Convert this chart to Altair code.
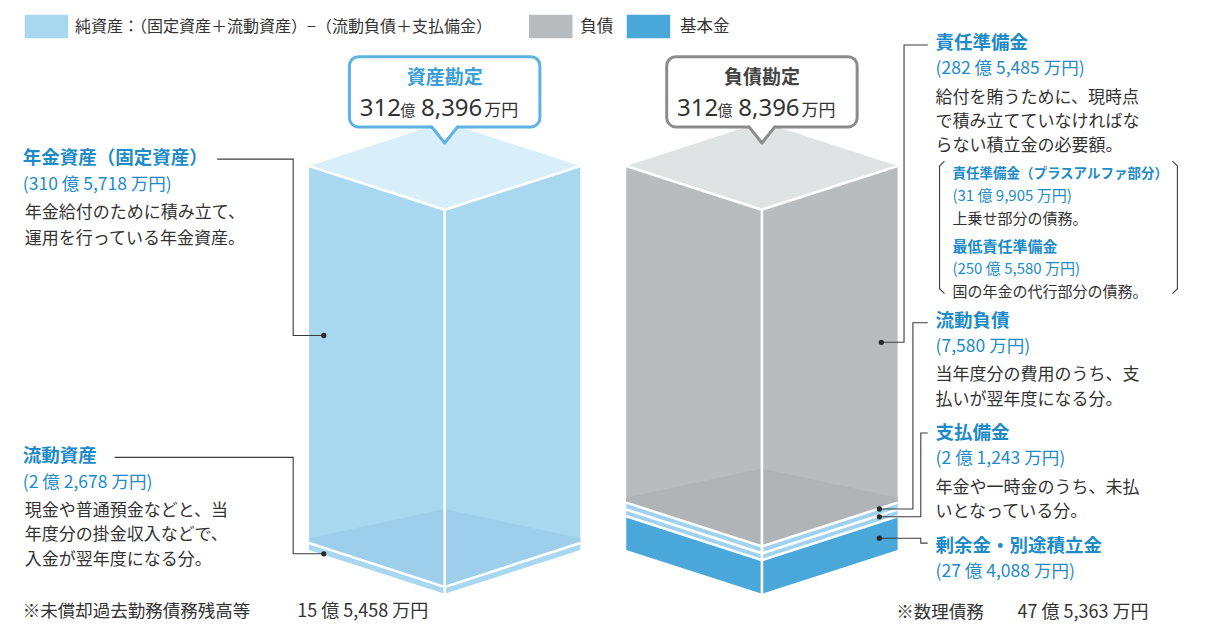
import altair as alt
import pandas as pd

# ---------------- data (amounts in 万円) ----------------
asset_labels = ["年金資産（固定資産）", "流動資産"]
asset_values = [3105718, 22678]
liability_labels = ["責任準備金", "流動負債", "支払備金", "剰余金・別途積立金"]
liability_values = [2825485, 7580, 21243, 274088]
reserve_labels = ["責任準備金（プラスアルファ部分）", "最低責任準備金"]
reserve_values = [319905, 2505580]
account_titles = ["資産勘定", "負債勘定"]
note_labels = ["※未償却過去勤務債務残高等", "※数理債務"]
note_values = [155458, 475363]
legend_labels = ["純資産：（固定資産＋流動資産）−（流動負債＋支払備金）", "負債", "基本金"]
asset_desc = [["年金給付のために積み立て、", "運用を行っている年金資産。"],
              ["現金や普通預金などと、当", "年度分の掛金収入などで、", "入金が翌年度になる分。"]]
liability_desc = [["給付を賄うために、現時点", "で積み立てていなければな", "らない積立金の必要額。"],
                  ["当年度分の費用のうち、支", "払いが翌年度になる分。"],
                  ["年金や一時金のうち、未払", "いとなっている分。"],
                  []]
reserve_desc = ["上乗せ部分の債務。", "国の年金の代行部分の債務。"]

# ---------------- styles / layout ----------------
LIGHT, GRAY, BASE, STRIPE = "#a8d7f0", "#b8bcbe", "#4aa7d9", "#9fd2ef"
TOPS = ["#d8eef9", "#e0e3e4"]
SHADES = ["#9dcfeb", "#b0b4b6"]
asset_fill = [LIGHT, LIGHT]
liability_fill = [GRAY, STRIPE, STRIPE, BASE]
legend_fill = [LIGHT, GRAY, BASE]
BLUE_T, DARK = "#1d8bc8", "#333333"
CALLOUT = ["#5cb2e1", "#8c8c8c"]
CALLOUT_T = ["#3a9fd6", "#444444"]
FONT = "Noto Sans CJK JP"
NUM_FONT = "Noto Sans, Noto Sans CJK JP, sans-serif"

BOX_TOP, BOX_BOT, DEPTH, HALF = 162, 556, 45, 137.5
CX = [442.5, 764]
MIN_PX = 7


def fmt(v, paren=True):
    oku, man = divmod(v, 10000)
    s = f"{oku} 億 {man:,} 万円" if oku else f"{man:,} 万円"
    return f"({s})" if paren else s


faces, shades, edges = [], [], []


def add_area(rows, pid, pts, fill):
    for x, y, y2 in pts:
        rows.append(dict(id=pid, x=x, y=y, y2=y2, fill=fill))


def add_line(rows, pid, pts, color="#ffffff"):
    for k, (x, y) in enumerate(pts):
        rows.append(dict(id=pid, k=k, x=x, y=y, color=color))


boxes = [(asset_values, asset_fill, [1, 0]),
         (liability_values, liability_fill, [3, 2, 1, 0])]
for b, (vals, fills, order) in enumerate(boxes):
    cx = CX[b]
    H = BOX_BOT - BOX_TOP
    total = sum(vals)
    hs = {i: max(vals[i] / total * H, MIN_PX) for i in order[:-1]}
    hs[order[-1]] = H - sum(hs.values())
    yb = BOX_BOT
    for n, i in enumerate(order):
        yt = yb - hs[i]
        add_area(faces, f"b{b}l{i}", [(cx - HALF, yb, yt), (cx, yb + DEPTH, yt + DEPTH), (cx + HALF, yb, yt)], fills[i])
        if i == order[-1]:
            add_area(shades, f"s{b}", [(cx - HALF, yb, yb - 5), (cx, yb + DEPTH, yb + DEPTH - 80), (cx + HALF, yb, yb - 5)], SHADES[b])
        else:
            add_line(edges, f"e{b}{n}", [(cx - HALF, yt), (cx, yt + DEPTH), (cx + HALF, yt)])
        yb = yt
    add_area(faces, f"b{b}top", [(cx - HALF, BOX_TOP, BOX_TOP), (cx, BOX_TOP + DEPTH, BOX_TOP - DEPTH), (cx + HALF, BOX_TOP, BOX_TOP)], TOPS[b])
    add_line(edges, f"t{b}", [(cx - HALF, BOX_TOP), (cx, BOX_TOP + DEPTH), (cx + HALF, BOX_TOP)])
    add_line(edges, f"v{b}", [(cx, BOX_TOP + DEPTH), (cx, BOX_BOT + DEPTH)])

# callouts
callout_rects, tail_cover, tails = [], [], []
for b in range(2):
    cx = CX[b]
    callout_rects.append(dict(x=cx - 96.5, x2=cx + 96.5, y=50, y2=122, stroke=CALLOUT[b]))
    add_area(tail_cover, f"c{b}", [(cx - 13, 117, 123), (cx, 117, 139), (cx + 13, 117, 123)], "#ffffff")
    add_line(tails, f"c{b}", [(cx - 13, 122), (cx, 138.5), (cx + 13, 122)], CALLOUT[b])

# leader lines
LEAD = "#3c3c3c"
leaders = []
add_line(leaders, "a0", [(212, 155), (289, 155), (289, 336), (320, 336)], LEAD)
add_line(leaders, "a1", [(108, 461), (289, 461), (289, 560), (320, 560)], LEAD)
add_line(leaders, "l0", [(932, 38), (908, 38), (908, 343), (885, 343)], LEAD)
add_line(leaders, "l1", [(932, 323), (917, 323), (917, 514), (883, 514)], LEAD)
add_line(leaders, "l2", [(932, 436), (925, 436), (925, 522), (883, 522)], LEAD)
add_line(leaders, "l3", [(883, 544), (925, 544), (925, 549), (932, 549)], LEAD)
add_line(leaders, "br0", [(949, 157), (944, 162), (944, 288), (949, 293)], LEAD)
add_line(leaders, "br1", [(1180, 157), (1185, 162), (1185, 288), (1180, 293)], LEAD)
dots = pd.DataFrame(dict(x=[320, 320, 885, 883, 883, 883], y=[336, 560, 343, 514, 522, 544]))

# legend
legend_rects = pd.DataFrame(dict(x=[17, 528, 627], x2=[61, 572, 671], y=[7, 7, 7], y2=[31, 31, 31], fill=legend_fill))

# texts
bold, normal = [], []


def t(rows, x, y, s, size, color):
    rows.append(dict(x=x, y=y, text=s, size=size, color=color))


t(bold, 15, 154, asset_labels[0], 18.5, BLUE_T)
t(normal, 15, 182, fmt(asset_values[0]), 17.5, BLUE_T)
for k, s in enumerate(asset_desc[0]):
    t(normal, 17, 210 + 27 * k, s, 17, DARK)
t(bold, 15, 460, asset_labels[1], 18.5, BLUE_T)
t(normal, 15, 487, fmt(asset_values[1]), 17.5, BLUE_T)
for k, s in enumerate(asset_desc[1]):
    t(normal, 17, 516 + 25 * k, s, 17, DARK)
t(normal, 15, 620, note_labels[0], 17.5, DARK)
t(normal, 293, 620, fmt(note_values[0], False), 18, DARK)

head_y = [36, 321, 436, 552]
for i, lab in enumerate(liability_labels):
    y0 = head_y[i]
    t(bold, 940, y0, lab, 18.5, BLUE_T)
    t(normal, 940, y0 + 27, fmt(liability_values[i]), 17.5, BLUE_T)
    for k, s in enumerate(liability_desc[i]):
        t(normal, 940, y0 + 56 + 25 * k, s, 17, DARK)
sub_y = [170, 245]
for i, lab in enumerate(reserve_labels):
    y0 = sub_y[i]
    t(bold, 957, y0, lab, 13.5 if i == 0 else 15, BLUE_T)
    t(normal, 957, y0 + 23, fmt(reserve_values[i]), 15, BLUE_T)
    t(normal, 957, y0 + 46, reserve_desc[i], 15, DARK)
t(normal, 900, 621, note_labels[1], 17.5, DARK)
t(normal, 1023, 621, fmt(note_values[1], False), 18, DARK)

t(normal, 68, 19, legend_labels[0], 16, DARK)
t(normal, 580, 19, legend_labels[1], 16.5, DARK)
t(normal, 681, 19, legend_labels[2], 16.5, DARK)

centered = []
amount_pieces = []
for b in range(2):
    cx = CX[b]
    t(centered, cx, 72, account_titles[b], 19, CALLOUT_T[b])
    oku, man = divmod(sum(boxes[b][0]), 10000)
    amount_pieces += [dict(x=cx - 86, y=111, text=str(oku), size=24, color=DARK),
                      dict(x=cx - 45, y=111, text="億", size=15, color=DARK),
                      dict(x=cx - 24, y=111, text=f"{man:,}", size=24, color=DARK),
                      dict(x=cx + 40, y=111, text="万円", size=17, color=DARK)]

# ---------------- chart ----------------
xs = alt.Scale(domain=[0, 1214], nice=False, zero=False)
ys = alt.Scale(domain=[0, 632], nice=False, zero=False, reverse=True)
X = alt.X("x:Q", scale=xs, axis=None)
Y = alt.Y("y:Q", scale=ys, axis=None)


def area_layer(rows):
    return alt.Chart(pd.DataFrame(rows)).mark_area(orient="vertical", opacity=1).encode(
        x=X, y=Y, y2="y2:Q", detail="id:N", color=alt.Color("fill:N", scale=None))


def line_layer(rows, width, **kw):
    return alt.Chart(pd.DataFrame(rows)).mark_line(strokeWidth=width, **kw).encode(
        x=X, y=Y, detail="id:N", order="k:Q", color=alt.Color("color:N", scale=None))


def text_layer(rows, font=FONT, **kw):
    return alt.Chart(pd.DataFrame(rows)).mark_text(font=font, **kw).encode(
        x=X, y=Y, text="text:N", size=alt.Size("size:Q", scale=None), color=alt.Color("color:N", scale=None))


layers = [
    area_layer(faces),
    area_layer(shades),
    line_layer(edges, 2.6),
    alt.Chart(pd.DataFrame(callout_rects)).mark_rect(fill="white", strokeWidth=3, cornerRadius=9).encode(
        x=X, x2="x2:Q", y=Y, y2="y2:Q", stroke=alt.Stroke("stroke:N", scale=None)),
    area_layer(tail_cover),
    line_layer(tails, 3, strokeJoin="round", strokeCap="round"),
    line_layer(leaders, 1.1),
    alt.Chart(dots).mark_circle(size=28, color="#2a2a2a", opacity=1).encode(x=X, y=Y),
    alt.Chart(legend_rects).mark_rect().encode(x=X, x2="x2:Q", y=Y, y2="y2:Q", fill=alt.Fill("fill:N", scale=None)),
    text_layer(bold, align="left", baseline="middle", fontWeight="bold"),
    text_layer(normal, align="left", baseline="middle"),
    text_layer(centered, align="center", baseline="middle", fontWeight="bold"),
    text_layer(amount_pieces, font=NUM_FONT, align="left", baseline="alphabetic"),
]

chart = alt.layer(*layers).properties(
    width=1198, height=616, padding=0, background="white",
    autosize=alt.AutoSizeParams(type="none"),
).configure_view(stroke=None)

chart.save("out.html", embed_options={"renderer": "svg", "actions": False})
